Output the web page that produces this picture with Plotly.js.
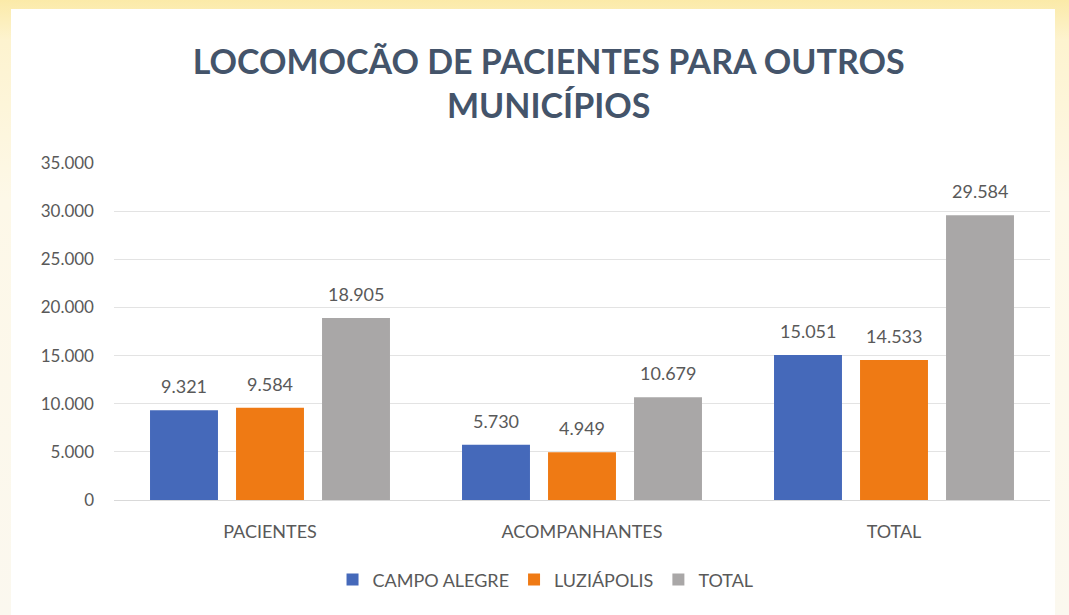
<!DOCTYPE html>
<html>
<head>
<meta charset="utf-8">
<script src="https://cdn.plot.ly/plotly-3.0.1.min.js"></script>
<style>
  html, body { margin: 0; padding: 0; width: 1069px; height: 615px; overflow: hidden;
    background: linear-gradient(180deg, #fbeaa8 0px, #fdf3cf 40px, #fdf8e8 200px, #fbf8ef 615px); }
  #box { position: absolute; left: 11px; top: 9px; width: 1044px; height: 606px; background: #ffffff; }
</style>
</head>
<body>
<div id="box"></div>
<script>
const categories = ['PACIENTES', 'ACOMPANHANTES', 'TOTAL'];
const seriesNames = ['CAMPO ALEGRE', 'LUZIÁPOLIS', 'TOTAL'];
const campoAlegre = [9321, 5730, 15051];
const luziapolis = [9584, 4949, 14533];
const total = [18905, 10679, 29584];
const yTicks = [0, 5000, 10000, 15000, 20000, 25000, 30000, 35000];

const colors = ['#4569ba', '#ef7a14', '#a9a7a7'];
const seriesValues = [campoAlegre, luziapolis, total];

const bargap = 0.173, bargroupgap = 0.21;
const traces = seriesValues.map((vals, i) => ({
  type: 'bar',
  name: seriesNames[i],
  x: categories,
  y: vals,
  marker: { color: colors[i] },
  hoverinfo: 'x+y+name'
}));

// data labels as annotations positioned over each bar
const annotations = [];
const slot = (1 - bargap) / seriesValues.length;
seriesValues.forEach((vals, i) => {
  vals.forEach((v, j) => {
    annotations.push({
      x: j + (i - (seriesValues.length - 1) / 2) * slot,
      y: v, xref: 'x', yref: 'y',
      text: v.toLocaleString('de-DE'),
      showarrow: false, yanchor: 'bottom', yshift: 11,
      font: { family: 'Lato, sans-serif', size: 18, color: '#595959' }
    });
  });
});

const layout = {
  width: 1044, height: 606,
  paper_bgcolor: '#ffffff', plot_bgcolor: '#ffffff',
  margin: { l: 103, r: 5, t: 154, b: 115 },
  separators: ',.',
  barmode: 'group', bargap: bargap, bargroupgap: bargroupgap,
  font: { family: 'Lato, sans-serif', color: '#595959' },
  title: {
    text: 'LOCOMOCÃO DE PACIENTES PARA OUTROS<br>MUNICÍPIOS',
    font: { family: 'Lato, sans-serif', size: 34, color: '#44546a', weight: 'bold' },
    xref: 'container', x: 0.515, xanchor: 'center',
    yref: 'container', y: 0.893, yanchor: 'top'
  },
  xaxis: {
    type: 'category', showgrid: false, zeroline: false,
    showline: true, linecolor: '#d9d9d9', linewidth: 1,
    ticks: '', ticklabelstandoff: 15,
    tickfont: { family: 'Lato, sans-serif', size: 18, color: '#595959' }
  },
  yaxis: {
    range: [0, 35000], tickvals: yTicks, tickformat: ',.0f',
    showgrid: true, gridcolor: '#e3e3e3', gridwidth: 1,
    zeroline: true, zerolinecolor: '#d9d9d9', showline: false,
    ticks: '', ticklabelstandoff: 19,
    tickfont: { family: 'Lato, sans-serif', size: 17, color: '#595959' }
  },
  showlegend: true,
  legend: {
    orientation: 'h', xref: 'container', x: 0.512, xanchor: 'center',
    yref: 'container', y: 0.058, yanchor: 'middle',
    font: { family: 'Lato, sans-serif', size: 18, color: '#595959' },
    itemwidth: 30, traceorder: 'normal'
  },
  annotations: annotations
};

Plotly.newPlot('box', traces, layout, { displayModeBar: false, responsive: false });
</script>
</body>
</html>
